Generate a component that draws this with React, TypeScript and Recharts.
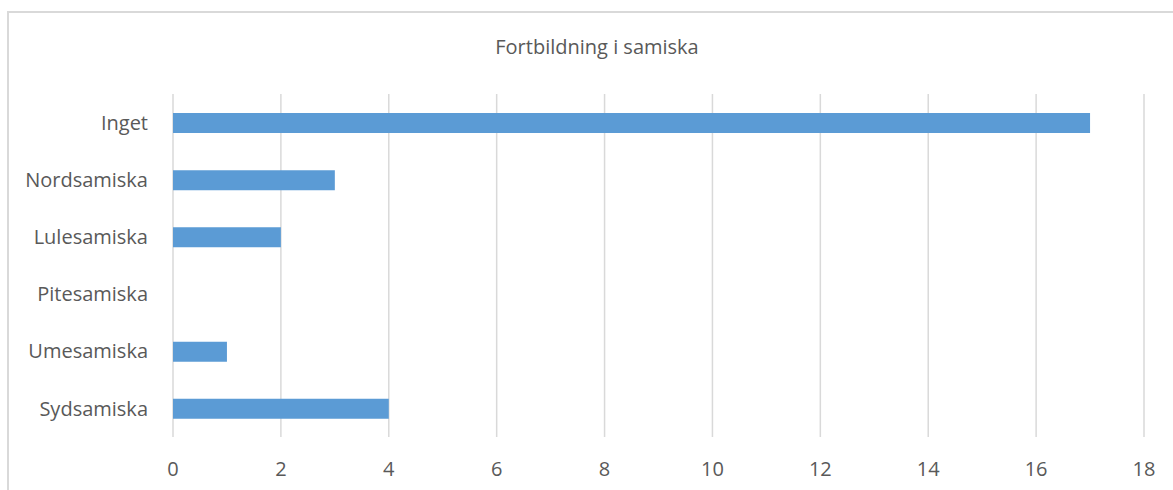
import { BarChart, Bar, XAxis, YAxis, CartesianGrid } from 'recharts';

const categories = ['Inget', 'Nordsamiska', 'Lulesamiska', 'Pitesamiska', 'Umesamiska', 'Sydsamiska'];
const counts = [17, 3, 2, 0, 1, 4];
const xTicks = [0, 2, 4, 6, 8, 10, 12, 14, 16, 18];
const title = 'Fortbildning i samiska';

const data = categories.map((name, i) => ({ name, antal: counts[i] }));

const font = '"Open Sans", Lato, sans-serif';

export default function App() {
  return (
    <div
      style={{
        position: 'absolute',
        left: 7,
        top: 11,
        width: 1176,
        height: 490,
        border: '2px solid #d9d9d9',
        background: '#fff',
        fontFamily: font,
        overflow: 'hidden',
      }}
    >
      <div
        style={{
          position: 'absolute',
          left: 0,
          width: 1176,
          top: 21,
          lineHeight: '26px',
          textAlign: 'center',
          fontSize: 20,
          color: '#595959',
        }}
      >
        {title}
      </div>
      <BarChart
        width={1180}
        height={490}
        data={data}
        layout="vertical"
        margin={{ top: 81, right: 45, bottom: 0, left: 0 }}
      >
        <CartesianGrid horizontal={false} stroke="#d9d9d9" strokeWidth={1.5} />
        <XAxis
          type="number"
          domain={[0, 18]}
          ticks={xTicks}
          axisLine={false}
          tickLine={false}
          tickMargin={19}
          height={66}
          tick={{ fill: '#595959', fontSize: 20, fontFamily: font }}
        />
        <YAxis
          type="category"
          dataKey="name"
          width={164}
          axisLine={false}
          tickLine={false}
          tickMargin={19}
          tick={{ fill: '#595959', fontSize: 20, fontFamily: font }}
        />
        <Bar dataKey="antal" fill="#5b9bd5" barSize={20} isAnimationActive={false} />
      </BarChart>
    </div>
  );
}
